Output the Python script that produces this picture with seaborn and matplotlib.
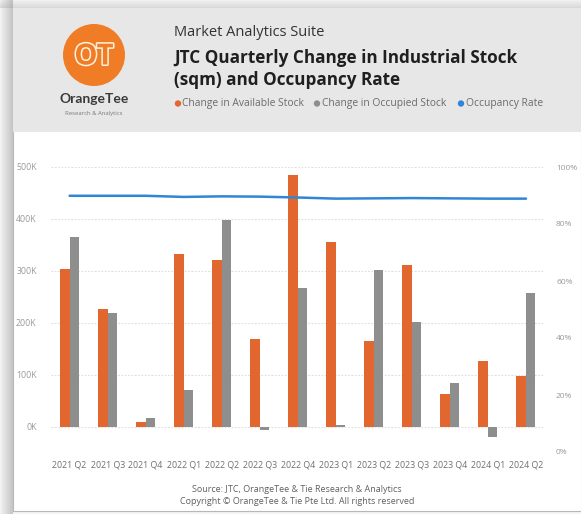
import numpy as np
import pandas as pd
import matplotlib
matplotlib.use("Agg")
import matplotlib.pyplot as plt
import matplotlib.patheffects as pe
from matplotlib.patches import Rectangle, Circle
from matplotlib.ticker import FuncFormatter
import seaborn as sns

# ---- data -------------------------------------------------------------
quarters = ["2021 Q2", "2021 Q3", "2021 Q4", "2022 Q1", "2022 Q2", "2022 Q3",
            "2022 Q4", "2023 Q1", "2023 Q2", "2023 Q3", "2023 Q4", "2024 Q1",
            "2024 Q2"]
available_stock = [303, 227, 10, 332, 321, 170, 485, 356, 166, 311, 64, 126, 98]   # '000 sqm
occupied_stock = [365, 219, 17, 71, 399, -5, 267, 3, 302, 202, 85, -19, 257]     # '000 sqm
occupancy_rate = [89.9, 89.9, 89.9, 89.5, 89.7, 89.6, 89.3, 88.9, 89.0, 89.1,
                  89.0, 88.9, 88.9]                                               # %
series_names = ["Change in Available Stock", "Change in Occupied Stock"]
left_ticks = [0, 100, 200, 300, 400, 500]
right_ticks = [0, 20, 40, 60, 80, 100]

ORANGE = "#E2672F"
GREY = "#8E8E8E"
BLUE = "#2F86D6"
LOGO_ORANGE = "#F07C26"

W, H = 581, 514
sns.set_theme(style="white")
plt.rcParams["font.family"] = ["Open Sans", "DejaVu Sans"]

fig = plt.figure(figsize=(W / 100, H / 100), dpi=100)
fig.patch.set_facecolor("#f4f4f4")

# ---- background card, drawn in pixel coordinates ----------------------
bg = fig.add_axes([0, 0, 1, 1], zorder=0)
bg.set_xlim(0, W)
bg.set_ylim(H, 0)
bg.axis("off")

# soft drop shadow on the left and top edges of the card
for k in range(12):
    a = 0.05 + 0.03 * k
    bg.add_patch(Rectangle((1 + k, 0), 1, H, color="#7a7a7a", alpha=min(a, 0.45), lw=0))
    bg.add_patch(Rectangle((0, k * 0.7), W, 0.7, color="#8a8a8a", alpha=min(a, 0.45) * 0.7, lw=0))
bg.add_patch(Rectangle((13, 8), W - 13, 503, facecolor="white", edgecolor="#b8b8b8", lw=0.8))
bg.add_patch(Rectangle((13, 8), W - 13, 124, facecolor="#e7e7e7", lw=0))

# logo
bg.add_patch(Circle((94, 55), 31, color=LOGO_ORANGE, lw=0))
bg.text(94, 57, "OT", ha="center", va="center", fontsize=21, fontweight="bold",
        color=LOGO_ORANGE,
        path_effects=[pe.withStroke(linewidth=2.2, foreground="#fff3e0")])
bg.text(94, 99, "OrangeTee", ha="center", va="center", fontsize=10,
        fontweight="bold", color="#3a3a3a", family=["Lato", "DejaVu Sans"])
bg.text(94, 114, "Research & Analytics", ha="center", va="center",
        fontsize=4.3, color="#7a7a7a")

# headings
bg.text(174, 33, "Market Analytics Suite", ha="left", va="center",
        fontsize=10.5, color="#333333")
bg.text(174, 58, "JTC Quarterly Change in Industrial Stock", ha="left",
        va="center", fontsize=12.3, fontweight="bold", color="#1f1f1f")
bg.text(174, 80, "(sqm) and Occupancy Rate", ha="left", va="center",
        fontsize=12.3, fontweight="bold", color="#1f1f1f")

# legend row
legend_items = [(178, ORANGE, series_names[0]),
                (317, GREY, series_names[1]),
                (461, BLUE, "Occupancy Rate")]
for x0, col, label in legend_items:
    bg.add_patch(Circle((x0, 103.5), 3.2, color=col, lw=0))
    bg.text(x0 + 4.5, 103.5, label, ha="left", va="center", fontsize=7.4,
            color="#6b6b6b")

# footer
bg.text(297, 489, "Source: JTC, OrangeTee & Tie Research & Analytics",
        ha="center", va="center", fontsize=6.5, color="#606060")
bg.text(297, 502, "Copyright \u00a9 OrangeTee & Tie Pte Ltd. All rights reserved",
        ha="center", va="center", fontsize=6.5, color="#606060")

# ---- chart ------------------------------------------------------------
left_px, right_px = 50.6, 545.0
top_px, bottom_px = 167.0, 452.0
zero_px = 427.0
ax = fig.add_axes([left_px / W, 1 - bottom_px / H,
                   (right_px - left_px) / W, (bottom_px - top_px) / H], zorder=2)
ax.patch.set_alpha(0)

df = pd.DataFrame({
    "quarter": quarters * 2,
    "series": [series_names[0]] * len(quarters) + [series_names[1]] * len(quarters),
    "value": [v * 1000 for v in available_stock] + [v * 1000 for v in occupied_stock],
})
sns.barplot(data=df, x="quarter", y="value", hue="series", order=quarters,
            hue_order=series_names, palette=[ORANGE, GREY], width=0.5,
            gap=0, saturation=1, ax=ax, legend=False, zorder=3)
for p in ax.patches:
    p.set_edgecolor("none")

ax.set_xlim(-0.5, len(quarters) - 0.5)
ax.set_ylim(-(bottom_px - zero_px) / (zero_px - top_px) * 500000, 500000)
ax.set_yticks([t * 1000 for t in left_ticks])
ax.yaxis.set_major_formatter(FuncFormatter(lambda v, _: f"{int(round(v / 1000))}K"))
ax.set_xlabel("")
ax.set_ylabel("")
ax.grid(axis="y", color="#dddddd", linestyle=(0, (1.5, 1.5)), linewidth=0.8, zorder=0)
ax.grid(axis="x", visible=False)
for s in ax.spines.values():
    s.set_visible(False)
ax.tick_params(axis="y", length=0, pad=10, labelsize=6.3, labelcolor="#9a9a9a")
ax.tick_params(axis="x", length=0, pad=6, labelsize=6.4, labelcolor="#707070")

ax2 = ax.twinx()
ax2.set_zorder(3)
line_df = pd.DataFrame({"pos": np.arange(len(quarters)), "rate": occupancy_rate})
sns.lineplot(data=line_df, x="pos", y="rate", color=BLUE, linewidth=1.8, ax=ax2)
ax2.set_ylim(0, 100)
ax2.set_yticks(right_ticks)
ax2.yaxis.set_major_formatter(FuncFormatter(lambda v, _: f"{int(v)}%"))
ax2.set_xlabel("")
ax2.set_ylabel("")
ax2.grid(False)
for s in ax2.spines.values():
    s.set_visible(False)
ax2.tick_params(axis="y", length=0, pad=8, labelsize=6.0, labelcolor="#9a9a9a")
ax.set_xlim(-0.5, len(quarters) - 0.5)

fig.savefig("out.png", dpi=100, facecolor=fig.get_facecolor())
